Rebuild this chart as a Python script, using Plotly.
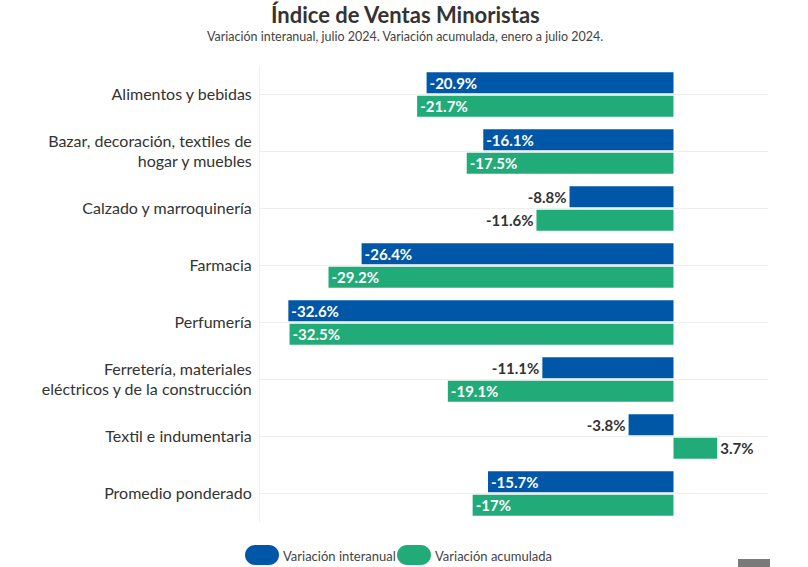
import plotly.graph_objects as go

categories = [
    "Alimentos y bebidas",
    "Bazar, decoración, textiles de<br>hogar y muebles",
    "Calzado y marroquinería",
    "Farmacia",
    "Perfumería",
    "Ferretería, materiales<br>eléctricos y de la construcción",
    "Textil e indumentaria",
    "Promedio ponderado",
]
interanual = [-20.9, -16.1, -8.8, -26.4, -32.6, -11.1, -3.8, -15.7]
acumulada = [-21.7, -17.5, -11.6, -29.2, -32.5, -19.1, 3.7, -17]

BLUE = "#0057A8"
GREEN = "#21AB78"
FONT = "Lato, 'Open Sans', sans-serif"

W, H = 808, 567
ML, MR, MT, MB = 260, 40, 66, 45
PW, PH = W - ML - MR, H - MT - MB


def px(x):
    return (x - ML) / PW


def py(y):
    return (H - MB - y) / PH


def fmt(v):
    return f"{v:g}%"


def positions(vals):
    return ["inside" if abs(v) >= 15 else "outside" for v in vals]


fig = go.Figure()
for name, vals, col in [("Variación interanual", interanual, BLUE),
                        ("Variación acumulada", acumulada, GREEN)]:
    fig.add_trace(go.Bar(
        y=categories, x=vals, orientation="h", name=name,
        marker=dict(color=col, line=dict(width=0)),
        text=[fmt(v) for v in vals],
        textposition=positions(vals),
        insidetextanchor="end",
        constraintext="none",
        insidetextfont=dict(color="white", size=15, family=FONT, weight="bold"),
        outsidetextfont=dict(color="#333333", size=15, family=FONT, weight="bold"),
        textangle=0, cliponaxis=False,
        showlegend=False,
    ))


def pill(x0, x1, y0, y1, color):
    r = (y1 - y0) / 2
    k = 0.5523 * r
    pts = [
        f"M{px(x0 + r)},{py(y0)}",
        f"L{px(x1 - r)},{py(y0)}",
        f"C{px(x1 - r + k)},{py(y0)} {px(x1)},{py(y0 + r - k)} {px(x1)},{py(y0 + r)}",
        f"C{px(x1)},{py(y0 + r + k)} {px(x1 - r + k)},{py(y1)} {px(x1 - r)},{py(y1)}",
        f"L{px(x0 + r)},{py(y1)}",
        f"C{px(x0 + r - k)},{py(y1)} {px(x0)},{py(y0 + r + k)} {px(x0)},{py(y0 + r)}",
        f"C{px(x0)},{py(y0 + r - k)} {px(x0 + r - k)},{py(y0)} {px(x0 + r)},{py(y0)}",
        "Z",
    ]
    return dict(type="path", path=" ".join(pts), xref="paper", yref="paper",
                fillcolor=color, line=dict(width=0), layer="above")


shapes = [
    pill(245, 279, 545, 565, BLUE),
    pill(397, 431, 545, 565, GREEN),
    dict(type="rect", xref="paper", yref="paper", x0=px(738), x1=px(770),
         y0=py(575), y1=py(559), fillcolor="#7a7a7a", line=dict(width=0)),
]

annotations = [
    dict(text="<b>Índice de Ventas Minoristas</b>", x=px(405), y=py(14),
         xref="paper", yref="paper", showarrow=False, xanchor="center",
         yanchor="middle", font=dict(size=22, color="#333333", family=FONT)),
    dict(text="Variación interanual, julio 2024. Variación acumulada, enero a julio 2024.",
         x=px(405), y=py(37), xref="paper", yref="paper", showarrow=False,
         xanchor="center", yanchor="middle",
         font=dict(size=12.5, color="#444444", family=FONT)),
    dict(text="Variación interanual", x=px(281), y=py(556), xref="paper", yref="paper",
         showarrow=False, xanchor="left", yanchor="middle",
         font=dict(size=13, color="#444444", family=FONT)),
    dict(text="Variación acumulada", x=px(433), y=py(556), xref="paper", yref="paper",
         showarrow=False, xanchor="left", yanchor="middle",
         font=dict(size=13, color="#444444", family=FONT)),
]

fig.update_layout(
    width=W, height=H,
    margin=dict(l=ML, r=MR, t=MT, b=MB, autoexpand=False),
    paper_bgcolor="white", plot_bgcolor="white",
    barmode="group", bargap=0.18, bargroupgap=0.1,
    font=dict(family=FONT, color="#333333"),
    shapes=shapes, annotations=annotations,
    showlegend=False,
    xaxis=dict(range=[-35, 8], showgrid=False, zeroline=False, showticklabels=False,
               showline=False, fixedrange=True),
    yaxis=dict(autorange="reversed", showgrid=True, gridcolor="#eeeeee", gridwidth=1,
               showline=True, linecolor="#eeeeee", linewidth=1, ticks="",
               ticklabelstandoff=4,
               tickfont=dict(size=16, color="#333333", family=FONT)),
)

fig.write_html("out.html")
